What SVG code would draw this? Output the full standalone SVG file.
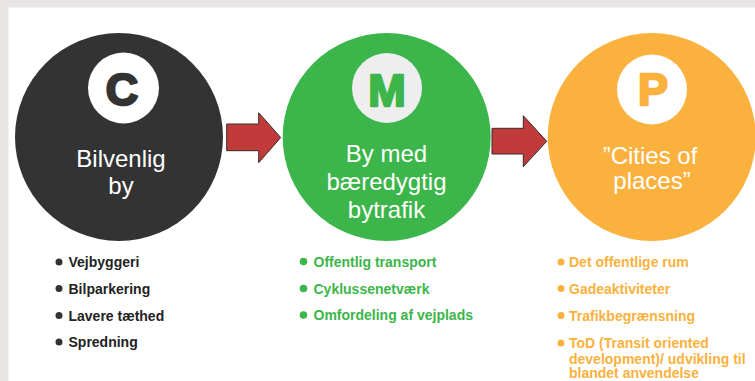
<svg xmlns="http://www.w3.org/2000/svg" width="755" height="381" viewBox="0 0 755 381">
<style>
  .big { font-family: "Liberation Sans", Arial, sans-serif; font-size: 24px; fill: #ffffff; text-anchor: middle; }
  .letter { font-family: "Liberation Sans", Arial, sans-serif; font-size: 45px; font-weight: bold; text-anchor: middle; stroke-width: 2.4; stroke-linejoin: round; }
  .item { font-family: "Liberation Sans", Arial, sans-serif; font-size: 14px; font-weight: bold; }
  .arrow { fill: #c23b3b; stroke: #3a2a2a; stroke-width: 1; stroke-linejoin: miter; }
</style>
<rect x="0" y="0" width="755" height="381" fill="#e8e5e4"/>
<rect x="8.5" y="7.5" width="746.5" height="373.5" fill="#ffffff"/>

<g id="connectors">
  <polygon class="arrow" points="226.7,124 258.7,124 258.7,112.7 280.7,137.5 258.7,162.7 258.7,150.7 226.7,150.7"/>
  <polygon class="arrow" points="492,128.3 523.3,128.3 523.3,115.7 546.7,141.3 523.3,166.7 523.3,154 492,154"/>
</g>

<g id="node-c">
  <circle cx="119" cy="137" r="104" fill="#333333"/>
  <circle cx="123.5" cy="88" r="35.5" fill="#ffffff"/>
  <text class="letter" x="122" y="105" fill="#333333" stroke="#333333">C</text>
  <text class="big" x="121" y="167">Bilvenlig</text>
  <text class="big" x="121" y="194">by</text>
  <g fill="#333333">
    <circle cx="59" cy="262" r="3.5"/>
    <circle cx="59" cy="288.5" r="3.5"/>
    <circle cx="59" cy="315.5" r="3.5"/>
    <circle cx="59" cy="342" r="3.5"/>
  </g>
  <g class="item" fill="#222222">
    <text x="68.5" y="267">Vejbyggeri</text>
    <text x="68.5" y="293.5">Bilparkering</text>
    <text x="68.5" y="320.5">Lavere tæthed</text>
    <text x="68.5" y="347">Spredning</text>
  </g>
</g>

<g id="node-m">
  <circle cx="386.7" cy="137" r="104" fill="#3cb54a"/>
  <circle cx="387" cy="88" r="35" fill="#eeeeee"/>
  <text class="letter" x="387" y="105.5" fill="#3cb54a" stroke="#3cb54a">M</text>
  <text class="big" x="386.5" y="162">By med</text>
  <text class="big" x="386.5" y="190">bæredygtig</text>
  <text class="big" x="386.5" y="218">bytrafik</text>
  <g fill="#3cb54a">
    <circle cx="303.5" cy="261.5" r="3.8"/>
    <circle cx="303.5" cy="288.5" r="3.8"/>
    <circle cx="303.5" cy="315" r="3.8"/>
  </g>
  <g class="item" fill="#3cb54a">
    <text x="313.5" y="267">Offentlig transport</text>
    <text x="313.5" y="293.5">Cyklussenetværk</text>
    <text x="313.5" y="320">Omfordeling af vejplads</text>
  </g>
</g>

<g id="node-p">
  <circle cx="651.7" cy="137" r="104" fill="#fab13d"/>
  <circle cx="652" cy="89.5" r="35" fill="#ffffff"/>
  <text class="letter" x="653" y="105" fill="#fab13d" stroke="#fab13d">P</text>
  <text class="big" x="650" y="163.5">”Cities of</text>
  <text class="big" x="652" y="189">places”</text>
  <g fill="#fab13d">
    <circle cx="561" cy="262" r="3.5"/>
    <circle cx="561" cy="288.5" r="3.5"/>
    <circle cx="561" cy="315.5" r="3.5"/>
    <circle cx="561" cy="343" r="3.5"/>
  </g>
  <g class="item" fill="#fab13d">
    <text x="569" y="267">Det offentlige rum</text>
    <text x="569" y="293.5">Gadeaktiviteter</text>
    <text x="569" y="320.5">Trafikbegrænsning</text>
    <text x="569" y="348">ToD (Transit oriented</text>
    <text x="569" y="363.5">development)/ udvikling til</text>
    <text x="569" y="378">blandet anvendelse</text>
  </g>
</g>
</svg>
